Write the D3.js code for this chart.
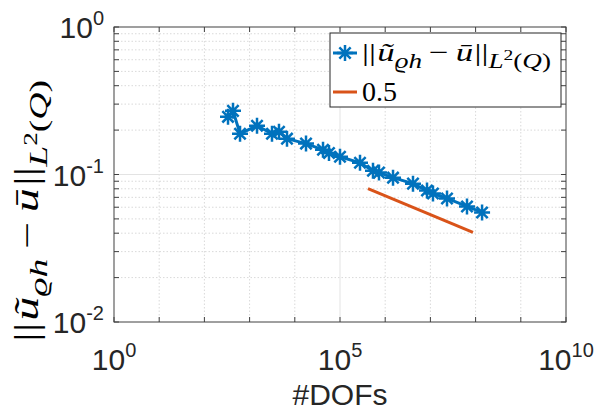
<!DOCTYPE html>
<html lang="en">
<head>
  <meta charset="UTF-8">
  <title>Error vs DOFs</title>
  <script src="https://d3js.org/d3.v7.min.js"></script>
  <style>
    body { margin: 0; background: #fff; }
    svg { display: block; }
    .tick-label { font-family: "Liberation Sans", Arial, sans-serif; fill: #262626; }
    .math { font-family: "Liberation Serif", "DejaVu Serif", serif; fill: #000; }
  </style>
</head>
<body>
  <svg id="chart" width="598" height="412"></svg>

  <script>
    // data
    const dofs = [333, 429, 614, 1459, 3130, 4470, 6720, 17700, 42100, 57100, 100000,
      277000, 537000, 729000, 1490000, 4120000, 8410000, 11400000, 23300000, 64500000, 139000000];
    const errs = [0.246, 0.270, 0.189, 0.214, 0.189, 0.195, 0.175, 0.162, 0.147, 0.140, 0.132,
      0.120, 0.106, 0.103, 0.0952, 0.0867, 0.0778, 0.0743, 0.0688, 0.0607, 0.0553];
    // reference slope line "0.5"
    const refDofs = [416000, 87500000];
    const refErrs = [0.0802, 0.0405];

    const xTickExp = [0, 5, 10];
    const yTickExp = [0, -1, -2];

    const width = 598, height = 412;
    const margin = { top: 27, right: 32, bottom: 90, left: 114 };
    const innerW = width - margin.left - margin.right;
    const innerH = height - margin.top - margin.bottom;

    const blue = "#0072BD", orange = "#D95319";

    const svg = d3.select("#chart");
    const g = svg.append("g").attr("transform", `translate(${margin.left},${margin.top})`);

    const x = d3.scaleLog().domain([1, 1e10]).range([0, innerW]);
    const y = d3.scaleLog().domain([1e-2, 1]).range([innerH, 0]);

    // minor values
    const xMinor = d3.range(1, 10).map(e => Math.pow(10, e)); // every decade
    const yMinor = [];
    [-2, -1].forEach(e => { for (let k = 2; k <= 9; k++) yMinor.push(k * Math.pow(10, e)); });

    // grid
    const grid = g.append("g");
    grid.selectAll(".xmin").data(xMinor.filter(v => v !== 1e5)).join("line")
      .attr("x1", d => x(d)).attr("x2", d => x(d)).attr("y1", 0).attr("y2", innerH)
      .attr("stroke", "#d9d9d9").attr("stroke-dasharray", "1.5,2").attr("stroke-width", 1);
    grid.selectAll(".ymin").data(yMinor).join("line")
      .attr("y1", d => y(d)).attr("y2", d => y(d)).attr("x1", 0).attr("x2", innerW)
      .attr("stroke", "#d9d9d9").attr("stroke-dasharray", "1.5,2").attr("stroke-width", 1);
    grid.append("line").attr("x1", x(1e5)).attr("x2", x(1e5)).attr("y1", 0).attr("y2", innerH)
      .attr("stroke", "#e3e3e3");
    grid.append("line").attr("y1", y(0.1)).attr("y2", y(0.1)).attr("x1", 0).attr("x2", innerW)
      .attr("stroke", "#e3e3e3");

    // ticks (inward, on all four sides)
    const tk = g.append("g").attr("stroke", "#404040").attr("stroke-width", 1);
    const xAll = [1].concat(xMinor, [1e10]);
    xAll.forEach(v => {
      tk.append("line").attr("x1", x(v)).attr("x2", x(v)).attr("y1", innerH).attr("y2", innerH - 5);
      tk.append("line").attr("x1", x(v)).attr("x2", x(v)).attr("y1", 0).attr("y2", 5);
    });
    yMinor.concat([0.01, 0.1, 1]).forEach(v => {
      tk.append("line").attr("y1", y(v)).attr("y2", y(v)).attr("x1", 0).attr("x2", 5);
      tk.append("line").attr("y1", y(v)).attr("y2", y(v)).attr("x1", innerW).attr("x2", innerW - 5);
    });

    // box
    g.append("rect").attr("width", innerW).attr("height", innerH)
      .attr("fill", "none").attr("stroke", "#404040").attr("stroke-width", 1);

    // tick labels
    function powLabel(sel, exp) {
      sel.append("tspan").text("10");
      sel.append("tspan").attr("font-size", 20).attr("dy", -13).text(String(exp));
    }
    xTickExp.forEach(e => {
      const t = g.append("text").attr("class", "tick-label")
        .attr("x", x(Math.pow(10, e))).attr("y", innerH + 48)
        .attr("text-anchor", "middle").attr("font-size", 30);
      powLabel(t, e);
    });
    yTickExp.forEach(e => {
      const t = g.append("text").attr("class", "tick-label")
        .attr("x", -10).attr("y", y(Math.pow(10, e)) + 11)
        .attr("text-anchor", "end").attr("font-size", 30);
      powLabel(t, e);
    });

    // x label
    svg.append("text").attr("class", "tick-label")
      .attr("x", margin.left + innerW / 2).attr("y", 405)
      .attr("text-anchor", "middle").attr("font-size", 30).text("#DOFs");

    // norm expression ||u~_{rho h} - u_bar||_{L2(Q)}
    function normExpr(t, fs) {
      const sub = fs * 0.78;
      const drop = fs * 0.28;
      t.append("tspan").text("||");
      t.append("tspan").attr("font-style", "italic").attr("dx", fs * 0.04).text("u\u0303");
      t.append("tspan").attr("font-style", "italic").attr("font-size", sub).attr("dy", drop).text("\u03F1h");
      t.append("tspan").attr("dy", -drop).text("\u2009\u2212\u2009");
      t.append("tspan").attr("font-style", "italic").text("u\u0304");
      t.append("tspan").attr("dx", fs * 0.04).text("||");
      t.append("tspan").attr("font-style", "italic").attr("font-size", sub).attr("dy", drop).text("L");
      t.append("tspan").attr("font-size", sub * 0.72).attr("dy", -fs * 0.3).text("2");
      t.append("tspan").attr("font-size", sub).attr("dy", fs * 0.3).text("(");
      t.append("tspan").attr("font-style", "italic").attr("font-size", sub).text("Q");
      t.append("tspan").attr("font-size", sub).text(")");
    }

    // y label: stretched along its length to the span seen in the picture, centred at y = 211
    const ylg = svg.append("g");
    const yl = ylg.append("text").attr("class", "math").attr("font-size", 33);
    normExpr(yl, 33);
    const yb = yl.node().getBBox();
    const ys = 262 / yb.width;
    ylg.attr("transform", `translate(38,${211 + 131}) rotate(-90) scale(${ys},1) translate(${-yb.x},0)`);

    // lines
    const line = d3.line().x(d => x(d[0])).y(d => y(d[1]));
    g.append("path").datum(d3.zip(refDofs, refErrs))
      .attr("d", line).attr("fill", "none").attr("stroke", orange).attr("stroke-width", 3);
    g.append("path").datum(d3.zip(dofs, errs))
      .attr("d", line).attr("fill", "none").attr("stroke", blue).attr("stroke-width", 3);

    // asterisk markers
    function star(r) {
      const a = r * Math.SQRT1_2;
      return `M${-r},0L${r},0M0,${-r}L0,${r}M${-a},${-a}L${a},${a}M${-a},${a}L${a},${-a}`;
    }
    g.selectAll(".mk").data(d3.zip(dofs, errs)).join("path")
      .attr("transform", d => `translate(${x(d[0])},${y(d[1])})`)
      .attr("d", star(8)).attr("stroke", blue).attr("stroke-width", 2.5).attr("fill", "none");

    // legend
    const lg = svg.append("g");
    lg.append("rect").attr("x", 330).attr("y", 33).attr("width", 231).attr("height", 74)
      .attr("fill", "#fff").attr("stroke", "#262626").attr("stroke-width", 1);
    lg.append("line").attr("x1", 333).attr("x2", 357).attr("y1", 53).attr("y2", 53)
      .attr("stroke", blue).attr("stroke-width", 3);
    lg.append("path").attr("transform", "translate(345,53)").attr("d", star(8))
      .attr("stroke", blue).attr("stroke-width", 2.5).attr("fill", "none");
    const ltg = lg.append("g");
    const lt = ltg.append("text").attr("class", "math").attr("font-size", 26);
    normExpr(lt, 26);
    const lb = lt.node().getBBox();
    const ls = 189 / lb.width;
    ltg.attr("transform", `translate(362,61) scale(${ls},1) translate(${-lb.x},0)`);
    lg.append("line").attr("x1", 333).attr("x2", 357).attr("y1", 92).attr("y2", 92)
      .attr("stroke", orange).attr("stroke-width", 3);
    lg.append("text").attr("class", "math").attr("x", 362).attr("y", 101).attr("font-size", 28).text("0.5");
  </script>
</body>
</html>
